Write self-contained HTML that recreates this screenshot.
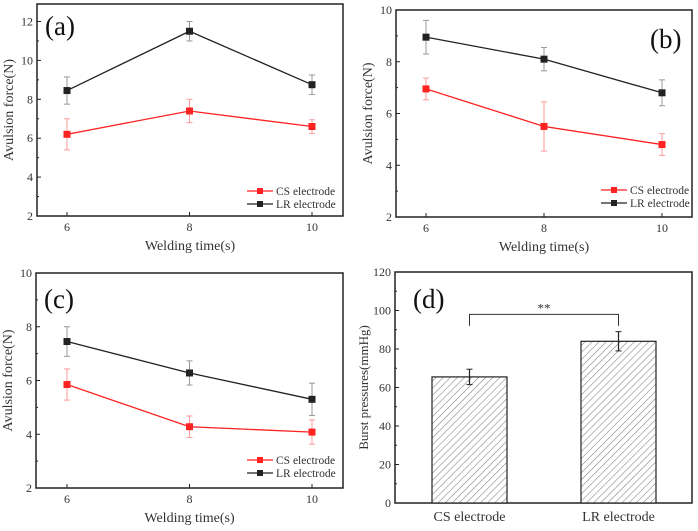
<!DOCTYPE html>
<html><head><meta charset="utf-8"><style>
body{margin:0;background:#fff}
svg{display:block}
svg text{font-family:"Liberation Serif",serif}
</style></head><body>
<svg id="fig" width="698" height="531" viewBox="0 0 698 531" font-family="Liberation Serif, serif">
<defs><pattern id="hatch" width="5" height="5" patternUnits="userSpaceOnUse" patternTransform="rotate(45)"><rect width="5" height="5" fill="#fff"/><line x1="0" y1="0" x2="0" y2="5" stroke="#888" stroke-width="1.2"/></pattern></defs>
</svg>
<script>
const xCats=[6,8,10];
const aLR=[8.45,11.5,8.75], aLRerr=[0.7,0.5,0.5], aCS=[6.2,7.4,6.6], aCSerr=[0.8,0.6,0.35];
const bLR=[8.95,8.1,6.8], bLRerr=[0.65,0.45,0.5], bCS=[6.95,5.5,4.8], bCSerr=[0.42,0.95,0.42];
const cLR=[7.45,6.28,5.3], cLRerr=[0.55,0.45,0.6], cCS=[5.85,4.28,4.08], cCSerr=[0.58,0.4,0.45];
const aTicks=[2,4,6,8,10,12], bTicks=[2,4,6,8,10], cTicks=[2,4,6,8,10];
const dCats=["CS electrode","LR electrode"], dVals=[65.5,84], dErr=[4,5], dTicks=[0,20,40,60,80,100,120];
const NS="http://www.w3.org/2000/svg", svg=document.getElementById('fig');
function el(t,a,p){const e=document.createElementNS(NS,t);for(const k in a)e.setAttribute(k,a[k]);(p||svg).appendChild(e);return e;}
function txt(s,a,p){a['font-family']='Liberation Serif, serif';const e=el('text',a,p);e.textContent=s;return e;}
function panel(cfg){
  const g=el('g',{});
  
  
  const {L,R,T,B,ymin,ymax,x6,x10}=cfg;
  const ys=v=>B-(v-ymin)/(ymax-ymin)*(B-T);
  const xs=v=>x6+(v-6)/4*(x10-x6);
  const box=el('rect',{x:L,y:T,width:R-L,height:B-T,fill:'none',stroke:'#222','stroke-width':1.5},g);
  
  cfg.ticks.forEach(t=>{el('line',{x1:L,x2:L+4,y1:ys(t),y2:ys(t),stroke:'#222'},g);
    if(ys(t+1)>T+1)el('line',{x1:L,x2:L+2,y1:ys(t+1),y2:ys(t+1),stroke:'#222'},g);
    const l=txt(t,{x:L-4,y:ys(t)+4,'text-anchor':'end','font-size':12,fill:'#333'},g);
    });
  xCats.forEach(c=>{el('line',{x1:xs(c),x2:xs(c),y1:B,y2:B-4,stroke:'#222'},g);
    const l=txt(c,{x:xs(c),y:B+15,'text-anchor':'middle','font-size':12,fill:'#333'},g);
    });
  const xt=txt('Welding time(s)',{x:(L+R)/2,y:B+34,'text-anchor':'middle','font-size':14,fill:'#333'},g);
  
  const yt=txt('Avulsion force(N)',{x:0,y:0,transform:`translate(${L-24},${(T+B)/2}) rotate(-90)`,'text-anchor':'middle','font-size':14,fill:'#333'},g);
  
  const lab=txt('('+cfg.id+')',{x:cfg.labX,y:cfg.labY,'font-size':27,fill:'#111'},g);
  
  [[cfg.cs,cfg.cse,'#f22','#f99','cs'],[cfg.lr,cfg.lre,'#222','#999','lr']].forEach(([v,e,c,ec,n])=>{
    const s=el('g',{},g);
    
    v.forEach((y,i)=>{const x=xs(xCats[i]);
      el('line',{x1:x,x2:x,y1:ys(y+e[i]),y2:ys(y-e[i]),stroke:ec},s);
      el('line',{x1:x-3,x2:x+3,y1:ys(y+e[i]),y2:ys(y+e[i]),stroke:ec},s);
      el('line',{x1:x-3,x2:x+3,y1:ys(y-e[i]),y2:ys(y-e[i]),stroke:ec},s);});
    el('polyline',{points:v.map((y,i)=>xs(xCats[i])+','+ys(y)).join(' '),fill:'none',stroke:c,'stroke-width':1.3},s);
    v.forEach((y,i)=>{const m=el('rect',{x:xs(xCats[i])-3.5,y:ys(y)-3.5,width:7,height:7,fill:c},s);
      });
  });
  [['CS electrode','#f22',0],['LR electrode','#222',13]].forEach(([t,c,dy])=>{
    const lg=el('g',{},g);
    const y=cfg.legY+dy;
    el('line',{x1:cfg.legX,x2:cfg.legX+26,y1:y,y2:y,stroke:c,'stroke-width':1.3},lg);
    el('rect',{x:cfg.legX+10,y:y-3,width:6,height:6,fill:c},lg);
    txt(t,{x:cfg.legX+29,y:y+4,'font-size':11.5,fill:'#333'},lg);});
}
panel({id:'a',L:37,R:343,T:4,B:216,ymin:2,ymax:12.9,x6:67,x10:312,ticks:aTicks,lr:aLR,lre:aLRerr,cs:aCS,cse:aCSerr,labX:45,labY:35,legX:247,legY:191});
panel({id:'b',L:396,R:692,T:10,B:217,ymin:2,ymax:10,x6:426,x10:662,ticks:bTicks,lr:bLR,lre:bLRerr,cs:bCS,cse:bCSerr,labX:650,labY:48,legX:601,legY:190});
panel({id:'c',L:36,R:343,T:273,B:488,ymin:2,ymax:10,x6:67,x10:312,ticks:cTicks,lr:cLR,lre:cLRerr,cs:cCS,cse:cCSerr,labX:44,labY:308,legX:247,legY:460});
(function(){
  const g=el('g',{});
  const L=395,R=692,T=272,B=503;const ys=v=>B-v/120*(B-T);
  const bx=[432,581],bw=75;
  el('rect',{x:L,y:T,width:R-L,height:B-T,fill:'none',stroke:'#222','stroke-width':1.5},g);
  dTicks.forEach(t=>{el('line',{x1:L,x2:L+4,y1:ys(t),y2:ys(t),stroke:'#222'},g);
    if(t<120)el('line',{x1:L,x2:L+2,y1:ys(t+10),y2:ys(t+10),stroke:'#222'},g);
    const l=txt(t,{x:L-4,y:ys(t)+4,'text-anchor':'end','font-size':12,fill:'#333'},g);
    });
  dVals.forEach((v,i)=>{
    const b=el('rect',{x:bx[i],y:ys(v),width:bw,height:B-ys(v),fill:'url(#hatch)',stroke:'#222','stroke-width':1.2},g);
    
    const cx=bx[i]+bw/2;
    el('line',{x1:cx,x2:cx,y1:ys(v+dErr[i]),y2:ys(v-dErr[i]),stroke:'#222','stroke-width':1.2},g);
    el('line',{x1:cx-3,x2:cx+3,y1:ys(v+dErr[i]),y2:ys(v+dErr[i]),stroke:'#222'},g);
    el('line',{x1:cx-3,x2:cx+3,y1:ys(v-dErr[i]),y2:ys(v-dErr[i]),stroke:'#222'},g);
    const l=txt(dCats[i],{x:cx,y:B+18,'text-anchor':'middle','font-size':14,fill:'#333'},g);
    });
  const c0=bx[0]+bw/2,c1=bx[1]+bw/2;
  const br=el('polyline',{points:`${c0},${ys(92)} ${c0},${ys(98)} ${c1},${ys(98)} ${c1},${ys(92)}`,fill:'none',stroke:'#333','stroke-width':1},g);
  
  txt('**',{x:(c0+c1)/2,y:ys(98)-2,'text-anchor':'middle','font-size':13,fill:'#333'},g);
  const yt=txt('Burst pressures(mmHg)',{x:0,y:0,transform:`translate(${L-27},${(T+B)/2}) rotate(-90)`,'text-anchor':'middle','font-size':13,fill:'#333'},g);
  
  const lab=txt('(d)',{x:413,y:308,'font-size':27,fill:'#111'},g);
  
})();
</script>
</body></html>
